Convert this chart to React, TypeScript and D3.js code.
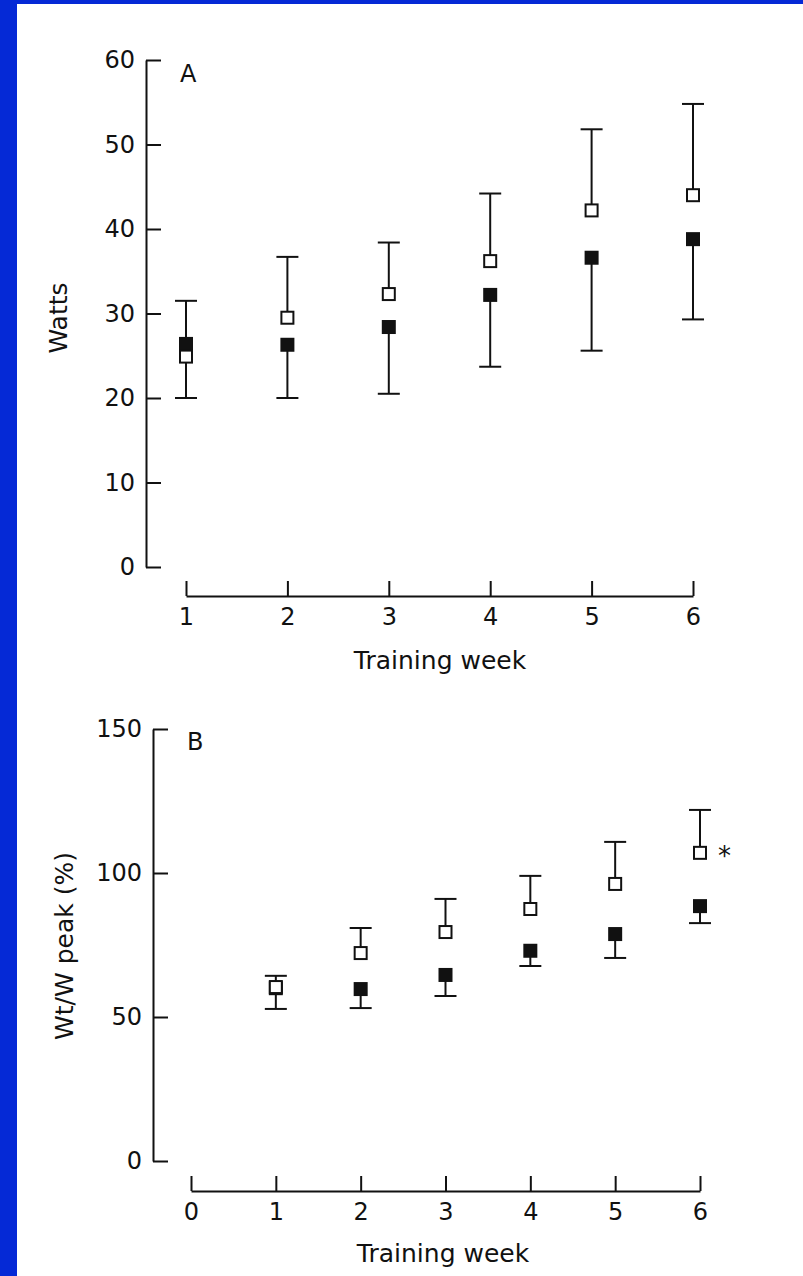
import React, { useRef, useEffect } from "react";
import * as d3 from "d3";

// Panel A: power output (Watts) per training week
const weeksA = [1, 2, 3, 4, 5, 6];
const wattsTicks = [0, 10, 20, 30, 40, 50, 60];
const wattsOpen = [24.9, 29.5, 32.3, 36.2, 42.2, 44.0];
const wattsOpenUpper = [31.5, 36.7, 38.4, 44.2, 51.8, 54.8];
const wattsFilled = [26.4, 26.3, 28.4, 32.2, 36.6, 38.8];
const wattsFilledLower = [20.0, 20.0, 20.5, 23.7, 25.6, 29.3];

// Panel B: Wt/W peak (%) per training week
const weeksB = [1, 2, 3, 4, 5, 6];
const weekTicksB = [0, 1, 2, 3, 4, 5, 6];
const peakTicks = [0, 50, 100, 150];
const peakOpen = [60.4, 72.2, 79.5, 87.5, 96.2, 107.0];
const peakOpenUpper = [64.3, 80.9, 91.0, 99.0, 110.8, 121.9];
const peakFilled = [60.0, 59.7, 64.6, 73.0, 78.8, 88.5];
const peakFilledLower = [52.8, 53.1, 57.3, 67.7, 70.5, 82.6];

const W = 803;
const H = 1276;
const BLUE = "#0529d6";
const INK = "#111";
const FONT = "'DejaVu Sans', sans-serif";
const SQ = 14;
const CAP = 11;

type PanelCfg = {
  weeks: number[];
  xTicks: number[];
  xDomain: [number, number];
  xRange: [number, number];
  xAxisY: number;
  yTicks: number[];
  yDomain: [number, number];
  yRange: [number, number];
  yAxisX: number;
  open: number[];
  openUpper: number[];
  filled: number[];
  filledLower: number[];
  letter: string;
  letterPos: [number, number];
  yLabel: string;
  yLabelPos: [number, number];
  xLabelPos: [number, number];
};

function drawPanel(svg: any, cfg: PanelCfg) {
  const x = d3.scaleLinear().domain(cfg.xDomain).range(cfg.xRange);
  const y = d3.scaleLinear().domain(cfg.yDomain).range(cfg.yRange);
  const g = svg.append("g");

  // Y axis (ticks point inward)
  const yAxisG = g
    .append("g")
    .attr("transform", `translate(${cfg.yAxisX},0)`)
    .call(
      d3
        .axisLeft(y)
        .tickValues(cfg.yTicks)
        .tickSizeInner(-15)
        .tickSizeOuter(0)
        .tickPadding(11)
        .tickFormat(d3.format("d")),
    );
  yAxisG.select(".domain").attr("stroke", INK).attr("stroke-width", 2);
  yAxisG.selectAll("line").attr("stroke", INK).attr("stroke-width", 2);
  yAxisG
    .selectAll("text")
    .attr("font-family", FONT)
    .attr("font-size", 24)
    .attr("fill", INK);

  // X axis (ticks point up)
  const xAxisG = g
    .append("g")
    .attr("transform", `translate(0,${cfg.xAxisY})`)
    .call(
      d3
        .axisBottom(x)
        .tickValues(cfg.xTicks)
        .tickSizeInner(-15)
        .tickSizeOuter(0)
        .tickPadding(12)
        .tickFormat(d3.format("d")),
    );
  xAxisG.select(".domain").attr("stroke", INK).attr("stroke-width", 2);
  xAxisG.selectAll("line").attr("stroke", INK).attr("stroke-width", 2);
  xAxisG
    .selectAll("text")
    .attr("font-family", FONT)
    .attr("font-size", 24)
    .attr("fill", INK);

  // Panel letter
  g.append("text")
    .attr("x", cfg.letterPos[0])
    .attr("y", cfg.letterPos[1])
    .attr("font-family", FONT)
    .attr("font-size", 24)
    .attr("fill", INK)
    .text(cfg.letter);

  // Axis titles
  g.append("text")
    .attr("transform", `translate(${cfg.yLabelPos[0]},${cfg.yLabelPos[1]}) rotate(-90)`)
    .attr("text-anchor", "middle")
    .attr("font-family", FONT)
    .attr("font-size", 25)
    .attr("fill", INK)
    .text(cfg.yLabel);

  g.append("text")
    .attr("x", cfg.xLabelPos[0])
    .attr("y", cfg.xLabelPos[1])
    .attr("text-anchor", "middle")
    .attr("font-family", FONT)
    .attr("font-size", 25)
    .attr("fill", INK)
    .text("Training week");

  const rows = cfg.weeks.map((w, i) => ({
    w,
    open: cfg.open[i],
    openUpper: cfg.openUpper[i],
    filled: cfg.filled[i],
    filledLower: cfg.filledLower[i],
  }));

  // Error bars: open up, filled down
  const bars = g.append("g").attr("stroke", INK).attr("stroke-width", 2);
  rows.forEach((d) => {
    bars.append("line")
      .attr("x1", x(d.w)).attr("x2", x(d.w))
      .attr("y1", y(d.open)).attr("y2", y(d.openUpper));
    bars.append("line")
      .attr("x1", x(d.w) - CAP).attr("x2", x(d.w) + CAP)
      .attr("y1", y(d.openUpper)).attr("y2", y(d.openUpper));
    bars.append("line")
      .attr("x1", x(d.w)).attr("x2", x(d.w))
      .attr("y1", y(d.filled)).attr("y2", y(d.filledLower));
    bars.append("line")
      .attr("x1", x(d.w) - CAP).attr("x2", x(d.w) + CAP)
      .attr("y1", y(d.filledLower)).attr("y2", y(d.filledLower));
  });

  // Filled squares first, open squares on top
  g.selectAll(".filled")
    .data(rows)
    .join("rect")
    .attr("class", "filled")
    .attr("x", (d) => x(d.w) - SQ / 2)
    .attr("y", (d) => y(d.filled) - SQ / 2)
    .attr("width", SQ)
    .attr("height", SQ)
    .attr("fill", INK);

  g.selectAll(".open")
    .data(rows)
    .join("rect")
    .attr("class", "open")
    .attr("x", (d) => x(d.w) - (SQ - 2) / 2)
    .attr("y", (d) => y(d.open) - (SQ - 2) / 2)
    .attr("width", SQ - 2)
    .attr("height", SQ - 2)
    .attr("fill", "#fff")
    .attr("stroke", INK)
    .attr("stroke-width", 2);

  return { x, y, g };
}

export default function App() {
  const svgRef = useRef<SVGSVGElement | null>(null);

  useEffect(() => {
    const svg = d3.select(svgRef.current);
    svg.selectAll("*").remove();

    svg.append("rect").attr("width", W).attr("height", H).attr("fill", BLUE);
    svg.append("rect").attr("x", 17).attr("y", 4).attr("width", W - 17).attr("height", H - 4).attr("fill", "#fff");

    drawPanel(svg, {
      weeks: weeksA,
      xTicks: weeksA,
      xDomain: [1, 6],
      xRange: [186, 693],
      xAxisY: 596,
      yTicks: wattsTicks,
      yDomain: [0, 60],
      yRange: [567, 60],
      yAxisX: 146,
      open: wattsOpen,
      openUpper: wattsOpenUpper,
      filled: wattsFilled,
      filledLower: wattsFilledLower,
      letter: "A",
      letterPos: [180, 82],
      yLabel: "Watts",
      yLabelPos: [67, 318],
      xLabelPos: [440, 669],
    });

    const b = drawPanel(svg, {
      weeks: weeksB,
      xTicks: weekTicksB,
      xDomain: [0, 6],
      xRange: [191, 700],
      xAxisY: 1191,
      yTicks: peakTicks,
      yDomain: [0, 150],
      yRange: [1161, 729],
      yAxisX: 153,
      open: peakOpen,
      openUpper: peakOpenUpper,
      filled: peakFilled,
      filledLower: peakFilledLower,
      letter: "B",
      letterPos: [187, 750],
      yLabel: "Wt/W peak (%)",
      yLabelPos: [73, 946],
      xLabelPos: [443, 1262],
    });

    // significance marker at week 6
    b.g.append("text")
      .attr("x", b.x(6) + 18)
      .attr("y", b.y(peakOpen[5]) + 12)
      .attr("font-family", FONT)
      .attr("font-size", 26)
      .attr("fill", INK)
      .text("*");
  }, []);

  return (
    <svg
      ref={svgRef}
      width={W}
      height={H}
      style={{ position: "absolute", left: 0, top: 0, display: "block" }}
    />
  );
}
